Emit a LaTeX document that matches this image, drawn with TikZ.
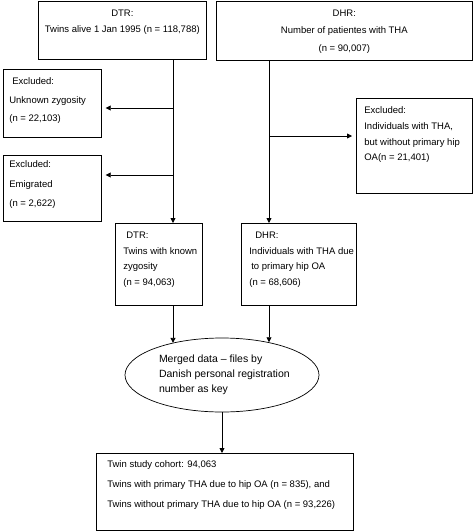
\documentclass[tikz,border=0pt]{standalone}
\usepackage{fontspec}
\setmainfont{Liberation Sans}
\usepackage{tikz}
\usetikzlibrary{shapes.geometric, arrows.meta, positioning}

% text block of a box: width, height, left indent, lines
\newcommand{\boxtext}[4]{\parbox[t][#2][t]{#1}{\leftskip=#3\relax #4}}

\begin{document}
\begin{tikzpicture}[x=1pt, y=-1pt,
    box/.style={draw, line width=0.7pt, anchor=north west, inner xsep=0pt, inner ysep=8.6pt, font=\fontsize{9.5}{15.7}\selectfont},
    merge/.style={draw, ellipse, line width=0.7pt, inner sep=0pt, minimum width=194pt, minimum height=74pt, font=\fontsize{10.5}{15}\selectfont},
    arr/.style={line width=0.8pt, -{Triangle[length=5pt, width=5pt]}}
]
    \useasboundingbox (0,0) rectangle (473,531);

    % Registers
    \node[box, font=\fontsize{9.5}{16}\selectfont] (dtr) at (38,1) {\boxtext{168pt}{40.8pt}{0pt}{\centering DTR:\\Twins alive 1 Jan 1995 (n = 118,788)}};
    \node[box, font=\fontsize{9.5}{17.5}\selectfont] (dhr) at (216,1) {\boxtext{256pt}{41.8pt}{0pt}{\centering DHR:\\Number of patientes with THA\\(n = 90,007)}};

    % Exclusions
    \node[box, font=\fontsize{9.5}{18.5}\selectfont] (unknown) at (3,69) {\boxtext{98pt}{50.8pt}{6pt}{\hspace*{3pt}Excluded:\\Unknown zygosity\\(n = 22,103)}};
    \node[box, inner ysep=5.6pt, font=\fontsize{9.5}{19.5}\selectfont] (emigrated) at (3,155) {\boxtext{98pt}{54.8pt}{6pt}{Excluded:\\Emigrated\\(n = 2,622)}};
    \node[box] (noprim) at (356,98) {\boxtext{116pt}{77.8pt}{8pt}{Excluded:\\Individuals with THA,\\but without primary hip\\OA(n = 21,401)}};

    % Remaining
    \node[box] (known) at (115,223) {\boxtext{87pt}{64.8pt}{8pt}{\hspace*{3pt}DTR:\\Twins with known\\zygosity\\(n = 94,063)}};
    \node[box] (primoa) at (241,223) {\boxtext{115pt}{64.8pt}{8pt}{\hspace*{6pt}DHR:\\Individuals with THA due\\\hspace*{2pt}to primary hip OA\\(n = 68,606)}};

    % Merge and cohort
    \node[merge] (merged) at (222,375) {\boxtext{136pt}{}{5pt}{Merged data -- files by\\Danish personal registration\\number as key}};
    \node[box, inner ysep=7.6pt, font=\fontsize{9.5}{20}\selectfont] (cohort) at (96,453) {\boxtext{257pt}{61.8pt}{11pt}{Twin study cohort: 94,063\\Twins with primary THA due to hip OA (n = 835), and\\Twins without primary THA due to hip OA (n = 93,226)}};

    % Flow lines
    \coordinate (dtrx) at (173,0);
    \coordinate (dhrx) at (269,0);
    \coordinate (cut1) at (173,108);
    \coordinate (cut2) at (173,175);
    \coordinate (cut3) at (269,136);

    \draw[arr] (dtr.south -| dtrx) -- (known.north -| dtrx);
    \draw[arr] (dhr.south -| dhrx) -- (primoa.north -| dhrx);
    \draw[arr, shorten >=4pt] (cut1) -- (cut1 -| unknown.east);
    \draw[arr, shorten >=4pt] (cut2) -- (cut2 -| emigrated.east);
    \draw[arr, shorten >=4pt] (cut3) -- (cut3 -| noprim.west);

    \draw[arr] (known.south -| dtrx) -- (dtrx |- merged.147);
    \draw[arr] (primoa.south -| dhrx) -- (dhrx |- merged.35);
    \draw[arr] (merged.south) -- (merged.south |- cohort.north);
\end{tikzpicture}
\end{document}
